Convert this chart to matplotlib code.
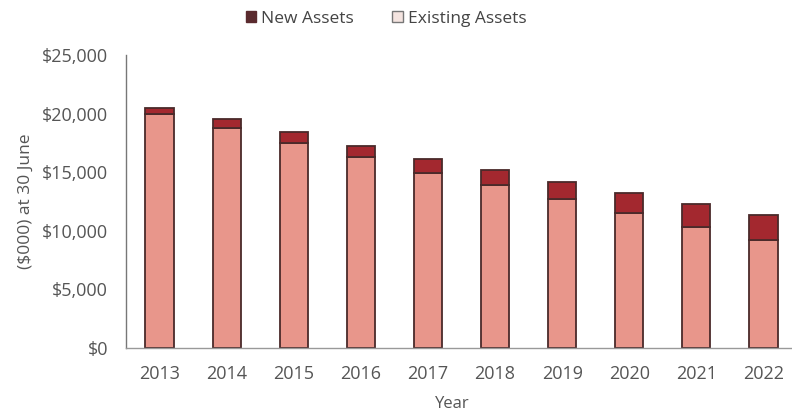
import matplotlib
matplotlib.use("Agg")
import matplotlib.pyplot as plt
from matplotlib.ticker import FuncFormatter, MultipleLocator
from matplotlib.patches import Patch

years = ["2013", "2014", "2015", "2016", "2017", "2018", "2019", "2020", "2021", "2022"]
existing_assets = [19950, 18750, 17500, 16300, 14900, 13900, 12700, 11500, 10350, 9250]
new_assets = [500, 750, 950, 900, 1200, 1250, 1500, 1700, 1900, 2100]

plt.rcParams["font.family"] = ["Open Sans", "DejaVu Sans"]
text_color = "#555555"

fig = plt.figure(figsize=(7.92, 4.13), dpi=100)
ax = fig.add_axes([126 / 792, (413 - 348) / 413, 671 / 792, (348 - 55) / 413])

x = range(len(years))
existing_color = "#e8968b"
new_color = "#a3282f"
edge_color = "#4a2a2a"

ax.bar(x, existing_assets, width=0.42, color=existing_color,
       edgecolor=edge_color, linewidth=1.3, zorder=2)
ax.bar(x, new_assets, width=0.42, bottom=existing_assets, color=new_color,
       edgecolor=edge_color, linewidth=1.3, zorder=2)

ax.set_xlim(-0.5, 9.5)
ax.set_ylim(0, 25000)
ax.yaxis.set_major_locator(MultipleLocator(5000))
ax.yaxis.set_major_formatter(FuncFormatter(lambda v, p: f"${v:,.0f}"))
ax.set_xticks(list(x))
ax.set_xticklabels(years)

for s in ["top", "right"]:
    ax.spines[s].set_visible(False)
ax.spines["left"].set_color("#777777")
ax.spines["bottom"].set_color("#999999")
ax.spines["left"].set_linewidth(1.0)
ax.spines["bottom"].set_linewidth(1.0)

ax.tick_params(axis="x", length=0, labelsize=13, colors=text_color, pad=12)
ax.tick_params(axis="y", length=0, labelsize=13, colors=text_color, pad=13)

ax.set_xlabel("Year", fontsize=12, color=text_color)
ax.xaxis.set_label_coords((452 - 126) / 671, -(404 - 348) / (348 - 55), transform=ax.transAxes)
ax.xaxis.label.set_verticalalignment("center")
ax.set_ylabel("($000) at 30 June", fontsize=12.5, color=text_color, labelpad=6)

handles = [
    Patch(facecolor="#5a2a2e", edgecolor="#5a2a2e", label="New Assets"),
    Patch(facecolor="#f4e4e0", edgecolor="#777777", label="Existing Assets"),
]
fig.legend(handles=handles, loc="center", bbox_to_anchor=(386 / 792, 1 - 19 / 413),
           ncol=2, frameon=False, fontsize=12.5, labelcolor="#444444",
           handlelength=0.6, handleheight=0.6, handletextpad=0.3, columnspacing=2.2)

fig.savefig("out.png", dpi=100)
